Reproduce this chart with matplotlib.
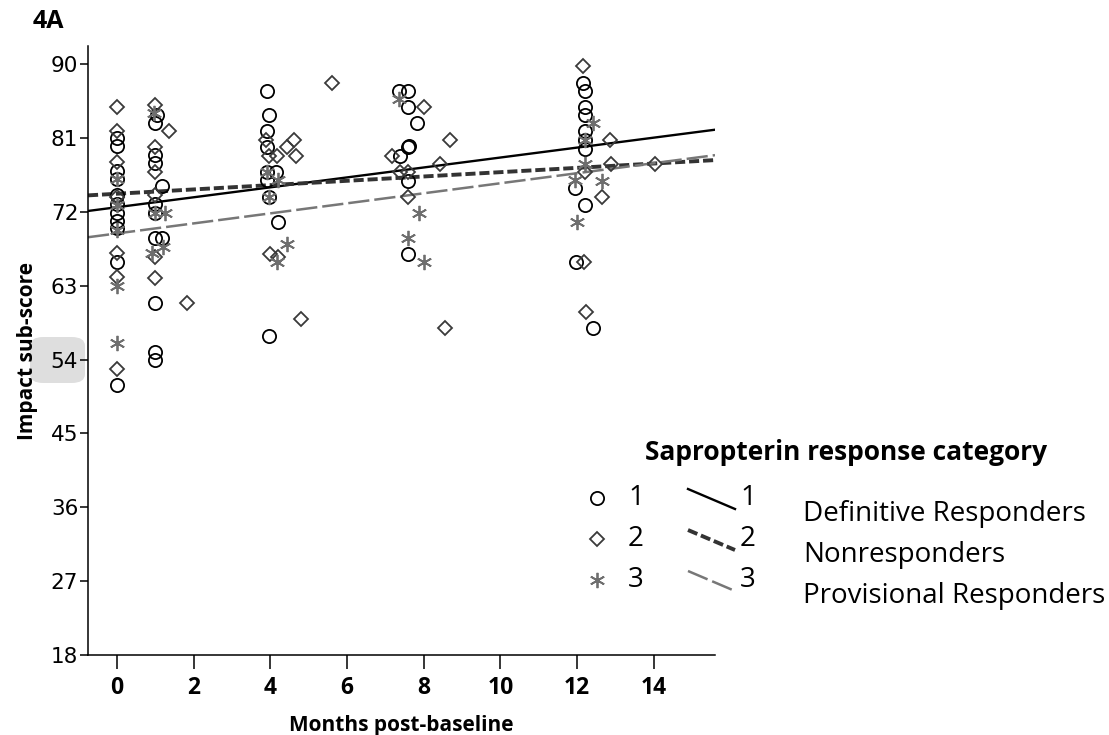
import matplotlib.pyplot as plt
import numpy as np
from matplotlib.lines import Line2D
from matplotlib.patches import FancyBboxPatch

# category 1: Definitive Responders (circles)
x1 = [0, 0, 0, 0, 0, 0, 0, 0, 0, 0, 0,
      1.03, 1, 1, 1, 1.16, 1, 1, 1, 1.16, 1, 1, 1,
      3.92, 3.96, 3.92, 3.92, 3.92, 4.14, 3.92, 3.95, 4.19, 3.96,
      7.36, 7.6, 7.6, 7.83, 7.58, 7.62, 7.38, 7.6, 7.6,
      12.16, 12.2, 12.2, 12.2, 12.2, 12.2, 12.2, 11.94, 12.2, 11.97, 12.42]
y1 = [81.0, 80.0, 77.0, 76.0, 74.0, 72.9, 71.8, 70.9, 70.0, 65.9, 50.9,
      83.8, 82.8, 78.9, 77.9, 75.1, 73.0, 71.9, 68.85, 68.85, 60.85, 54.96, 53.95,
      86.75, 83.8, 81.8, 79.85, 76.9, 76.9, 75.9, 73.8, 70.8, 56.9,
      86.75, 86.75, 84.8, 82.85, 79.85, 80.0, 78.8, 75.8, 66.85,
      87.7, 86.75, 84.8, 83.8, 81.8, 80.7, 79.7, 74.9, 72.8, 65.85, 57.9]

# category 2: Nonresponders (diamonds)
x2 = [0, 0, 0, 0, 0, 0, 0,
      1, 1.36, 1, 1, 1, 1, 1, 1.82,
      3.88, 4.62, 4.44, 3.97, 4.16, 4.66, 3.99, 4.2, 4.79, 5.6,
      8.0, 8.68, 7.18, 8.42, 7.38, 7.6, 7.6, 8.55,
      12.16, 12.85, 12.88, 14.03, 12.2, 12.66, 12.17, 12.23]
y2 = [84.8, 81.8, 78.1, 73.8, 67.0, 64.1, 52.9,
      85.0, 81.8, 79.95, 76.9, 74.0, 66.5, 63.9, 60.85,
      80.8, 80.8, 79.85, 78.8, 78.8, 78.8, 66.9, 66.5, 58.9, 87.7,
      84.8, 80.8, 78.8, 77.8, 76.9, 76.9, 73.8, 57.9,
      89.75, 80.8, 77.8, 77.8, 76.8, 73.8, 65.85, 59.85]

# category 3: Provisional Responders (asterisks)
x3 = [0, 0, 0, 0, 0,
      0.95, 1.0, 1.25, 1.2, 0.92,
      3.92, 4.2, 3.95, 4.42, 4.16,
      7.36, 7.88, 7.6, 8.0,
      12.42, 12.2, 12.2, 11.94, 12.66, 12.0]
y3 = [76.0, 72.8, 69.8, 62.9, 56.0,
      84.0, 71.8, 71.9, 67.75, 67.0,
      76.9, 75.9, 73.8, 68.1, 65.9,
      85.7, 71.8, 68.85, 65.85,
      82.85, 80.7, 77.8, 75.9, 75.8, 70.8]

# fit lines, read at the axis ends
fit_x = [-0.76, 15.6]
fit1 = [72.1, 82.0]
fit2 = [74.0, 78.3]
fit3 = [68.9, 78.9]

W, H = 1109, 735
fig = plt.figure(figsize=(W / 100, H / 100), dpi=100)


def fx(px):
    return px / W


def fy(py):
    return 1 - py / H


ax = fig.add_axes([fx(88), fy(655), fx(715) - fx(88), fy(46) - fy(655)])

star = (6, 2, 0)
ax.plot(x1, y1, 'o', ls='none', mfc='none', mec='black', ms=9.5, mew=1.3, zorder=3)
ax.plot(x2, y2, 'D', ls='none', mfc='none', mec='#3a3a3a', ms=7.5, mew=1.3, zorder=3)
ax.plot(x3, y3, marker=star, ls='none', color='#6e6e6e', ms=11, mew=1.3, zorder=3)

ax.plot(fit_x, fit1, color='black', lw=1.7, zorder=2)
ax.plot(fit_x, fit2, color='#333333', lw=2.8, dashes=(2.6, 1.0), zorder=2)
ax.plot(fit_x, fit3, color='#777777', lw=1.8, dashes=(8.5, 2.0), zorder=2)

ax.set_xlim(fit_x[0], fit_x[1])
ax.set_ylim(18, 92.2)
ax.set_yticks([18, 27, 36, 45, 54, 63, 72, 81, 90])
ax.set_xticks([0, 2, 4, 6, 8, 10, 12, 14])
for s in ['top', 'right']:
    ax.spines[s].set_visible(False)
ax.spines['left'].set_linewidth(1.1)
ax.spines['bottom'].set_linewidth(1.1)
ax.tick_params(axis='y', direction='out', length=6, width=1.1, labelsize=15.5, pad=1)
ax.tick_params(axis='x', direction='out', length=10, width=1.1, labelsize=16.5, pad=5)
for lab in ax.get_yticklabels():
    lab.set_family('DejaVu Sans')
for lab in ax.get_xticklabels():
    lab.set_family('Open Sans')
    lab.set_fontweight('bold')

ax.set_xlabel('Months post-baseline', family='Open Sans', fontweight='bold', fontsize=15, labelpad=11)
ax.set_ylabel('Impact sub-score', family='Open Sans', fontweight='bold', fontsize=15, labelpad=9)

# grey highlight behind the 54 tick label
box = FancyBboxPatch((fx(30), fy(383)), fx(55), fy(337) - fy(383),
                     boxstyle='round,pad=0,rounding_size=0.012',
                     transform=fig.transFigure, fc='#dedede', ec='none', zorder=-1)
fig.add_artist(box)

fig.text(fx(33), fy(22), '4A', family='Open Sans', fontweight='bold', fontsize=18, va='center')

# legend
fig.text(fx(846), fy(453), 'Sapropterin response category', family='Open Sans',
         fontweight='bold', fontsize=19, ha='center', va='center')
rows = [498, 539, 580]
mk = [dict(marker='o', mfc='none', mec='black', ms=9.5, mew=1.3),
      dict(marker='D', mfc='none', mec='#3a3a3a', ms=7, mew=1.3),
      dict(marker=star, color='#6e6e6e', ms=11, mew=1.3)]
ln = [dict(color='black', lw=1.7),
      dict(color='#333333', lw=2.8, dashes=(2.6, 1.0)),
      dict(color='#777777', lw=1.8, dashes=(8.5, 2.0))]
names = ['Definitive Responders', 'Nonresponders', 'Provisional Responders']
for i, r in enumerate(rows):
    fig.add_artist(Line2D([fx(597)], [fy(r)], ls='none', transform=fig.transFigure, **mk[i]))
    fig.text(fx(628), fy(r), str(i + 1), family='Open Sans', fontsize=20, va='center')
    fig.add_artist(Line2D([fx(688), fx(735)], [fy(r - 9), fy(r + 11)],
                          transform=fig.transFigure, **ln[i]))
    fig.text(fx(740), fy(r), str(i + 1), family='Open Sans', fontsize=20, va='center')
    fig.text(fx(803), fy(r + 16), names[i], family='Open Sans', fontsize=20, va='center')

fig.savefig('out.png', dpi=100)
